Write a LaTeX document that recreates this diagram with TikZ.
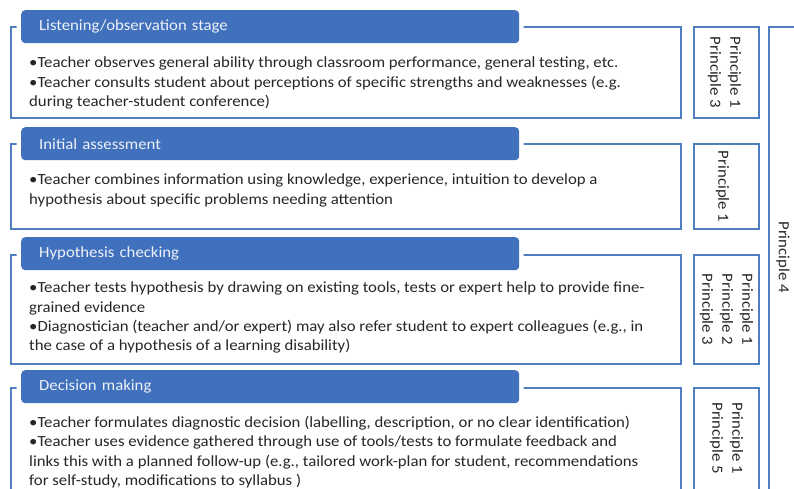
\documentclass[tikz,border=0pt]{standalone}
\usepackage{fontspec}
\setmainfont{Carlito}[FakeStretch=1.08]
\usetikzlibrary{positioning}
\definecolor{HeadBlue}{HTML}{4171BC}
\definecolor{Frame}{HTML}{4F7FC0}
\definecolor{Ink}{HTML}{262626}
\definecolor{HeadInk}{HTML}{EEF2F8}
\tikzset{
  stage/.style={draw=Frame,line width=2.2pt,anchor=north west,inner sep=0pt,minimum width=670pt},
  princ/.style={draw=Frame,line width=2.2pt,anchor=north west,inner sep=0pt,minimum width=65pt},
  head/.style={fill=HeadBlue,rounded corners=4pt,preaction={draw=white,line width=9pt},anchor=north west,
    minimum height=33pt,text width=462pt,inner xsep=18pt,inner ysep=0pt,align=left,
    text=HeadInk,font=\fontsize{15.5}{17}\selectfont},
  body/.style={text=Ink,font=\fontsize{15.5}{19.3}\selectfont,align=left,anchor=north west,inner sep=0pt},
  princtext/.style={text=Ink,font=\fontsize{15.5}{20}\selectfont,align=center,rotate=-90,inner sep=0pt}
}
\begin{document}
\begin{tikzpicture}[x=1pt,y=-1pt]
  \useasboundingbox (0,0) rectangle (794,488);
  \clip (0,0) rectangle (794,488);
  \node[stage,minimum height=91pt] (obs) at (10,26) {};
  \node[stage,minimum height=85pt] (init) at (10,143) {};
  \node[stage,minimum height=109pt] (hypo) at (10,254) {};
  \node[stage,minimum height=130pt] (dec) at (10,387) {};
  \node[princ,minimum height=91pt] (obsp) at (693,26) {};
  \node[princ,minimum height=85pt] (initp) at (693,143) {};
  \node[princ,minimum height=109pt] (hypop) at (693,254) {};
  \node[princ,minimum height=130pt] (decp) at (693,387) {};
  \node[princ,minimum width=60pt,minimum height=500pt] (allp) at (768,26) {};
  \node[head] (obshead) at (21,10) {Listening/observation stage};
  \node[head] (inithead) at (21,127) {Initial assessment};
  \node[head] (hypohead) at (21,237) {Hypothesis checking};
  \node[head] (dechead) at (21,370) {Decision making};
  \node[body] (obstext) at (29,57) {•Teacher observes general ability through classroom performance, general testing, etc.\\
    •Teacher consults student about perceptions of specific strengths and weaknesses (e.g.\\
    during teacher-student conference)};
  \node[body] (inittext) at (29,174) {•Teacher combines information using knowledge, experience,  intuition to develop a\\
    hypothesis about specific problems needing attention};
  \node[body] (hypotext) at (29,282) {•Teacher tests hypothesis by drawing on existing tools, tests or expert help  to provide fine-\\
    grained evidence\\
    •Diagnostician (teacher and/or expert) may also refer student to expert colleagues (e.g., in\\
    the case of a hypothesis of a learning disability)};
  \node[body] (dectext) at (29,416) {•Teacher formulates diagnostic decision (labelling, description, or no clear identification)\\
    •Teacher uses evidence gathered  through use of tools/tests to formulate feedback and\\
    links this with a planned follow-up (e.g., tailored work-plan for student, recommendations\\
    for self-study, modifications to syllabus )};
  \node[princtext] at ([xshift=-2pt]obsp.center) {Principle 1\\Principle 3};
  \node[princtext] at ([xshift=-4pt]initp.center) {Principle 1};
  \node[princtext] at (hypop.center) {Principle 1\\Principle 2\\Principle 3};
  \node[princtext] at ([yshift=-51pt]decp.north) {Principle 1\\Principle 5};
  \node[princtext] at (783,257) {Principle 4};
\end{tikzpicture}
\end{document}
